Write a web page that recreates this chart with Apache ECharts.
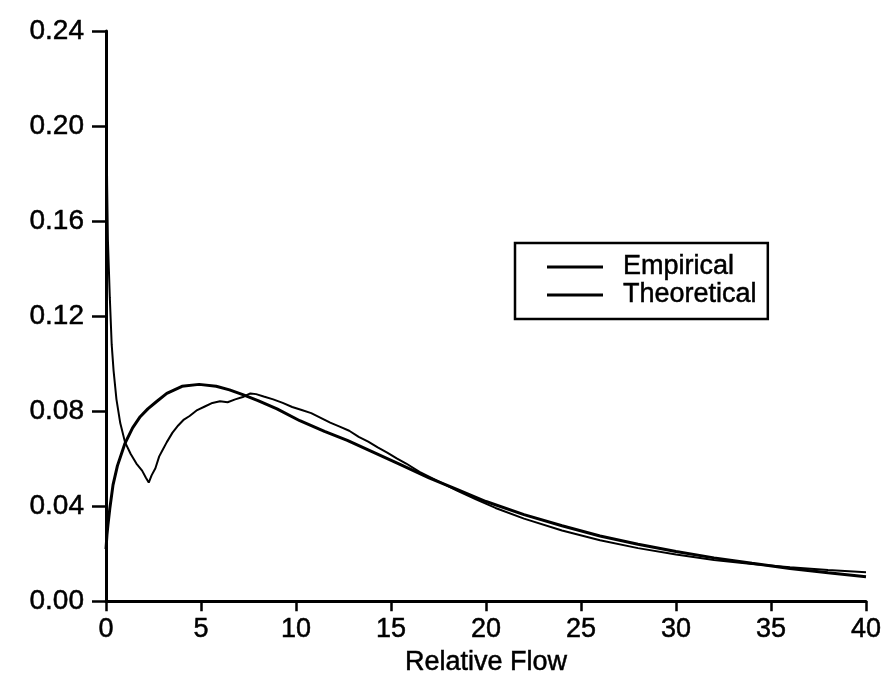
<!DOCTYPE html>
<html>
<head>
<meta charset="utf-8">
<script src="https://cdn.jsdelivr.net/npm/echarts@6/dist/echarts.min.js"></script>
<style>
  html, body { margin: 0; padding: 0; background: #fff; }
  #chart { width: 888px; height: 681px; }
</style>
</head>
<body>
<div id="chart"></div>
<script>
// Relative flow density: empirical histogram trace vs. fitted theoretical curve
const empiricalX = [0, 0.03, 0.06, 0.1, 0.15, 0.2, 0.3, 0.4, 0.55, 0.75, 1.0, 1.3, 1.6, 1.9, 2.1, 2.25,
  2.4, 2.6, 2.8, 3.0, 3.2, 3.5, 3.8, 4.1, 4.4, 4.8, 5.2, 5.6, 6.0, 6.4, 6.8, 7.2, 7.6, 7.9, 8.3, 8.8,
  9.3, 9.8, 10.3, 10.8, 11.3, 11.8, 12.3, 12.8, 13.3, 13.8, 14.3, 14.8, 15.3, 15.8, 16.5, 17.5, 18.5,
  19.5, 20.5, 22, 24, 26, 28, 30, 32, 34, 36, 38, 40];
const empiricalY = [0.235, 0.2, 0.175, 0.152, 0.14, 0.128, 0.108, 0.097, 0.085, 0.075, 0.067, 0.062,
  0.058, 0.055, 0.052, 0.050, 0.053, 0.056, 0.061, 0.064, 0.067, 0.071, 0.074, 0.0765, 0.078, 0.0805,
  0.082, 0.0835, 0.0842, 0.0838, 0.085, 0.086, 0.0875, 0.0872, 0.0862, 0.085, 0.0835, 0.0818, 0.0805,
  0.0792, 0.0772, 0.0752, 0.0735, 0.0718, 0.0692, 0.0672, 0.0648, 0.0626, 0.0602, 0.058, 0.0545,
  0.0505, 0.0465, 0.0428, 0.0393, 0.0348, 0.0298, 0.0257, 0.0224, 0.0197, 0.0174, 0.0157, 0.0143,
  0.0132, 0.0122];

const theoreticalX = [0, 0.05, 0.1, 0.2, 0.37, 0.6, 1.0, 1.4, 1.8, 2.2, 2.65, 3.2, 4.0, 4.9, 5.8, 6.5,
  7.2, 8, 9, 10.2, 11.5, 12.7, 14, 15.5, 17, 18.5, 20, 22, 24, 26, 28, 30, 32, 34, 36, 38, 40];
const theoreticalY = [0.022, 0.028, 0.032, 0.039, 0.049, 0.057, 0.0665, 0.073, 0.0777, 0.081, 0.084,
  0.0875, 0.0905, 0.0913, 0.0905, 0.089, 0.087, 0.0845, 0.081, 0.076, 0.0715, 0.0677, 0.063, 0.0575,
  0.052, 0.047, 0.042, 0.0365, 0.0318, 0.0275, 0.024, 0.021, 0.0183, 0.016, 0.0138, 0.012, 0.0104];

const xTicks = [0, 5, 10, 15, 20, 25, 30, 35, 40];
const yTicks = [0.00, 0.04, 0.08, 0.12, 0.16, 0.20, 0.24];

const pairs = (xs, ys) => xs.map((x, i) => [x, ys[i]]);

const font = '"Liberation Sans", Arial, sans-serif';
// a thin outline gives the text the heavier printed look
const ink = { color: '#000', fontFamily: font, textBorderColor: '#000', textBorderWidth: 0.5 };

const chart = echarts.init(document.getElementById('chart'), null, { renderer: 'canvas' });

chart.setOption({
  backgroundColor: '#fff',
  animation: false,
  grid: { left: 106, right: 22, top: 31, bottom: 60, containLabel: false },
  legend: {
    left: 515, top: 243,
    orient: 'vertical',
    padding: [10, 11, 10, 32],
    itemGap: 0,
    itemWidth: 56,
    itemHeight: 3,
    icon: 'rect',
    borderColor: '#000',
    borderWidth: 2.5,
    borderRadius: 0,
    backgroundColor: '#fff',
    textStyle: Object.assign({ fontSize: 27, lineHeight: 28, padding: [0, 0, 0, 15] }, ink),
    data: [
      { name: 'Empirical', itemStyle: { color: '#000' } },
      { name: 'Theoretical', itemStyle: { color: '#000' } }
    ]
  },
  xAxis: {
    type: 'value',
    min: xTicks[0], max: xTicks[xTicks.length - 1], interval: 5,
    name: 'Relative Flow',
    nameLocation: 'middle',
    nameGap: 22,
    nameTextStyle: Object.assign({ fontSize: 27 }, ink),
    axisLine: { show: true, onZero: false, lineStyle: { color: '#000', width: 3 } },
    axisTick: { show: true, length: 10, lineStyle: { color: '#000', width: 2.5 } },
    axisLabel: Object.assign({ show: true, margin: 15, fontSize: 27,
      showMinLabel: true, showMaxLabel: true }, ink),
    splitLine: { show: false }
  },
  yAxis: {
    type: 'value',
    min: yTicks[0], max: yTicks[yTicks.length - 1], interval: 0.04,
    axisLine: { show: true, onZero: false, lineStyle: { color: '#000', width: 3 } },
    axisTick: { show: true, length: 14, lineStyle: { color: '#000', width: 2.5 } },
    axisLabel: Object.assign({ show: true, margin: 22, fontSize: 28,
      formatter: v => v.toFixed(2), showMinLabel: true, showMaxLabel: true }, ink),
    splitLine: { show: false }
  },
  series: [
    {
      name: 'Empirical', type: 'line', showSymbol: false, symbol: 'none',
      data: pairs(empiricalX, empiricalY),
      lineStyle: { color: '#000', width: 2 },
      itemStyle: { color: '#000' },
      z: 3
    },
    {
      name: 'Theoretical', type: 'line', showSymbol: false, symbol: 'none',
      data: pairs(theoreticalX, theoreticalY),
      lineStyle: { color: '#000', width: 3 },
      itemStyle: { color: '#000' },
      z: 2
    }
  ]
});
</script>
</body>
</html>
